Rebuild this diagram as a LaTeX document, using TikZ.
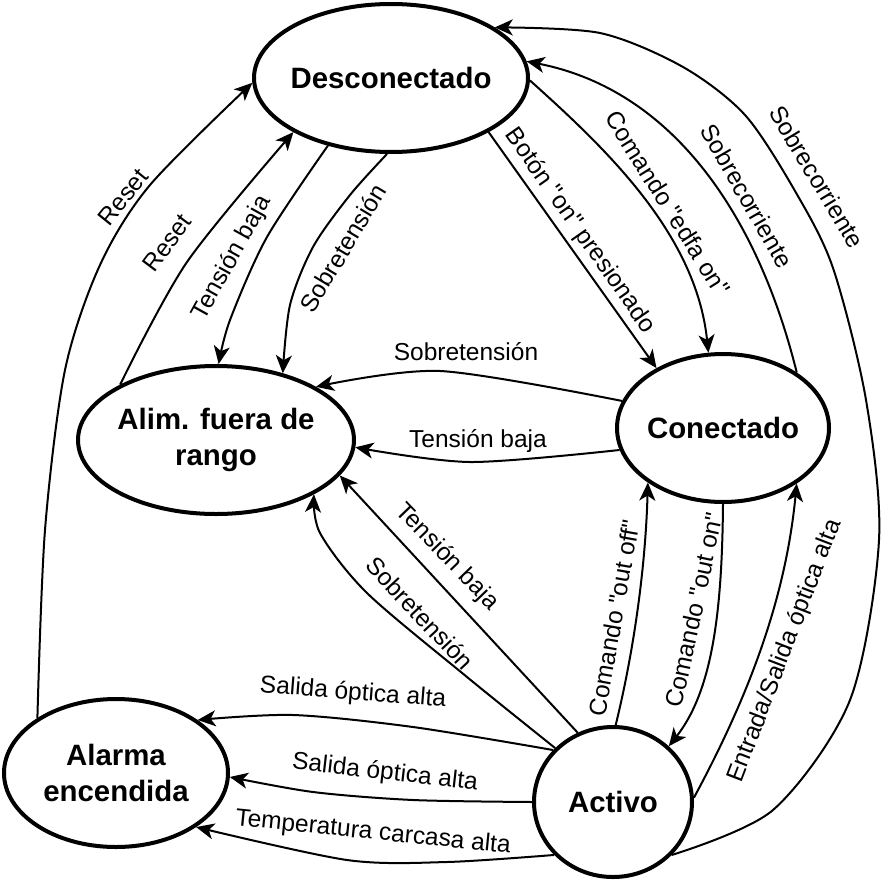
\documentclass[tikz,border=0pt]{standalone}
\usepackage{fontspec}
\newfontfamily\lib{Liberation Sans}
\usetikzlibrary{shapes.geometric,arrows.meta}
\begin{document}
\begin{tikzpicture}[x=1pt,y=-1pt,
  state/.style={ellipse, draw, line width=4pt, inner sep=0pt, outer sep=2pt,
    font=\lib\fontsize{29.4}{35.5}\selectfont\bfseries, align=center},
  edge/.style={line width=2pt, -{Stealth[length=18pt,width=16pt,inset=5pt]}},
  lbl/.style={font=\lib\fontsize{24.5}{29}\selectfont, inner sep=0pt}]
\useasboundingbox (0,0) rectangle (885,883);
% states
\node[state, minimum width=274pt, minimum height=148pt] (desc) at (391,78) {\makebox[0pt]{Desconectado}};
\node[state, minimum width=276pt, minimum height=148pt] (alim) at (216,440) {\makebox[0pt]{Alim. fuera de}\\\makebox[0pt]{rango}};
\node[state, minimum width=212pt, minimum height=148pt] (con) at (723,428) {\makebox[0pt]{Conectado}};
\node[state, minimum width=224pt, minimum height=148pt] (alarma) at (116,773) {\makebox[0pt]{Alarma}\\\makebox[0pt]{encendida}};
\node[state, minimum width=158pt, minimum height=150pt] (activo) at (613,802) {\makebox[0pt]{Activo}};
% edges
\draw[edge] plot[smooth] coordinates {(alarma.145) (45,530) (65,370) (100,265) (150,185) (desc.182)};
\draw[edge] plot[smooth] coordinates {(alim.150) (187,262) (desc.209)};
\draw[edge] plot[smooth] coordinates {(desc.227) (267,237) (230,320) (alim.88)};
\draw[edge] plot[smooth] coordinates {(desc.267) (350,195) (313,247) (290,305) (alim.45)};
\draw[edge] (desc.331) -- (con.138);
\draw[edge] (desc.359) .. controls (604,147) and (696,233) .. (con.101);
\draw[edge] (con.37) .. controls (759.5,222) and (677,91) .. (desc.7);
\draw[edge] plot[smooth] coordinates {(activo.318) (773,810) (850,700) (879,540) (866,400) (833,268) (795,191) (745,115) (683,67) (600,33) (desc.26)};
\draw[edge] plot[smooth] coordinates {(con.165) (440,371) (alim.28)};
\draw[edge] plot[smooth] coordinates {(con.192) (470,462) (alim.357)};
\draw[edge] (activo.117) -- (alim.344);
\draw[edge] plot[smooth] coordinates {(activo.137) (467,677) (367,593) (320,533) (alim.331)};
\draw[edge] plot[smooth] coordinates {(activo.139) (413,727) (293,715) (alarma.33)};
\draw[edge] plot[smooth] coordinates {(activo.180) (413,800) (313,792) (alarma.358)};
\draw[edge] plot[smooth] coordinates {(activo.222) (447,862) (347,860) (alarma.326)};
\draw[edge] (activo.88) .. controls (635,646) and (645.6,563) .. (con.216);
\draw[edge] (con.270) .. controls (722,610) and (713,690) .. (activo.45);
\draw[edge] (activo.3) .. controls (752,690) and (786,594) .. (con.323);
% labels
\node[lbl, rotate=51] (l1) at (123,197) {Reset};
\node[lbl, rotate=53] (l2) at (167,243) {Reset};
\node[lbl, rotate=61] (l3) at (232,258) {Tensión baja};
\node[lbl, rotate=59] (l4) at (343,248) {Sobretensión};
\node[lbl, rotate=-55] (l5) at (580,231) {Botón "on" presionado};
\node[lbl, rotate=-58] (l6) at (668,203) {Comando "edfa on"};
\node[lbl, rotate=-60] (l7) at (747,196) {Sobrecorriente};
\node[lbl, rotate=-59] (l8) at (817,177) {Sobrecorriente};
\node[lbl] (l9) at (466,352) {Sobretensión};
\node[lbl] (l10) at (478,441) {Tensión baja};
\node[lbl, rotate=-46] (l11) at (447,557) {Tensión baja};
\node[lbl, rotate=-47] (l12) at (420,613) {Sobretensión};
\node[lbl, rotate=-4.5] (l13) at (353,693) {Salida óptica alta};
\node[lbl, rotate=-6.5] (l14) at (385,773) {Salida óptica alta};
\node[lbl, rotate=-5.8] (l15) at (373,833) {Temperatura carcasa alta};
\node[lbl, rotate=80] (l16) at (614,618) {Comando "out off"};
\node[lbl, rotate=78] (l17) at (694,610) {Comando "out on"};
\node[lbl, rotate=69] (l18) at (785,651) {Entrada/Salida óptica alta};
\end{tikzpicture}
\end{document}
